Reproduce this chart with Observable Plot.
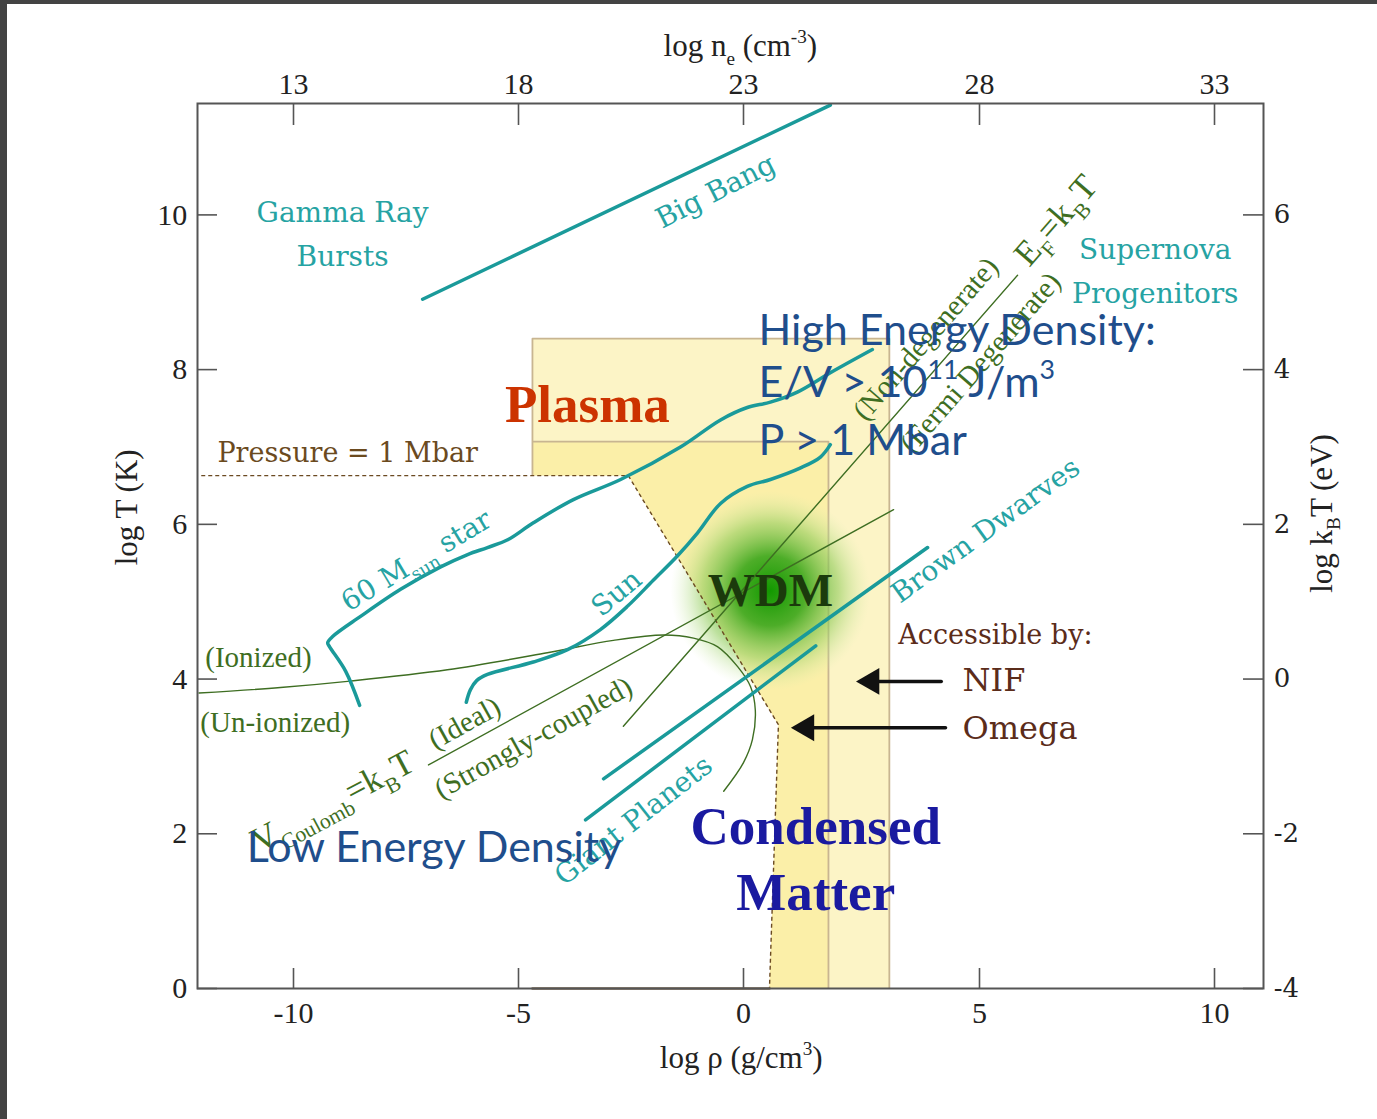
<!DOCTYPE html>
<html><head><meta charset="utf-8">
<script src="https://cdn.jsdelivr.net/npm/d3@7"></script>
<script src="https://cdn.jsdelivr.net/npm/@observablehq/plot@0.6"></script>
<style>
html,body{margin:0;padding:0;background:#434343;width:1377px;height:1119px;overflow:hidden;}
#wrap{position:absolute;left:7px;top:4px;width:1370px;height:1115px;background:#fff;overflow:hidden;}
</style></head><body><div id="wrap"></div>
<script>
// ---- axis ticks ----
const xTicks = [-10, -5, 0, 5, 10];          // log rho (g/cm^3)
const neTicks = [13, 18, 23, 28, 33];        // log n_e = log rho + 23
const yTicks = [0, 2, 4, 6, 8, 10];          // log T (K)
const kTTicks = [-4, -2, 0, 2, 4, 6];        // log kT (eV) = log T - 4

// ---- regions [log rho, log T] ----
const nifRegion = [[-4.69,8.40],[3.09,8.40],[3.09,0],[0.55,0],[0.74,3.41],[-2.56,6.63],[-4.69,6.63]];
const omegaRegion = [[-4.69,7.07],[1.80,7.07],[1.80,0],[0.55,0],[0.74,3.41],[-2.56,6.63],[-4.69,6.63]];
const pressureBoundary = [[-12.05,6.63],[-2.56,6.63],[0.74,3.41],[0.55,0]];
const plasmaBase = [[-4.69,0],[0.55,0]];
const wdmCenter = [[0.57,5.14]];

// ---- teal astrophysical tracks ----
const bigBang = [[-7.13,8.91],[1.84,11.42]];
const star60 = [[-8.53,3.66],[-8.84,4.10],[-9.20,4.42],[-9.24,4.47],[-9.13,4.55],[-8.51,4.81],[-7.62,5.16],[-6.73,5.45],[-6.13,5.61],[-5.69,5.70],[-5.24,5.80],[-4.67,6.02],[-3.78,6.32],[-2.73,6.58],[-1.40,7.00],[-0.51,7.35],[0.08,7.51],[0.57,7.58],[1.14,7.71],[1.84,7.96],[2.73,8.26]];
const sun = [[-6.16,3.70],[-6.07,3.86],[-5.93,3.98],[-5.69,4.06],[-4.67,4.22],[-3.91,4.38],[-3.18,4.64],[-2.58,4.94],[-2.00,5.28],[-1.47,5.59],[-1.02,5.89],[-0.51,6.27],[0.08,6.49],[0.57,6.58],[1.21,6.73],[1.63,6.87],[1.84,7.03]];
const brownDwarves = [[-3.11,2.71],[3.90,5.70]];
const giantPlanets = [[-3.51,2.18],[1.53,4.43]];

// ---- green boundary lines ----
const ionization = [[-12.1,3.82],[-10.29,3.89],[-8.80,3.97],[-6.58,4.12],[-4.36,4.34],[-2.89,4.50],[-1.78,4.57],[-1.11,4.53],[-0.58,4.42],[-0.13,4.16],[0.15,3.90],[0.25,3.60],[0.19,3.22],[0.0,2.92],[-0.44,2.55]];
const coulomb = [[-7.0,2.89],[3.18,6.19]];
const fermi = [[-2.67,3.39],[5.81,9.22]];

// ---- arrows ----
const nifArrow = [[4.19,3.97],[2.48,3.97]];
const omegaArrow = [[4.28,3.37],[1.10,3.37]];

// ---- labels [log rho, log T, text, angle] ----
const tealLabels = [
  [-8.91,10.02,"Gamma Ray",0],[-8.91,9.45,"Bursts",0],
  [8.74,9.54,"Supernova",0],[8.74,8.98,"Progenitors",0],
  [-0.62,10.30,"Big Bang",-27],
  [-7.27,5.53,"60 M_{sun} star",-31],
  [-2.82,5.11,"Sun",-40],
  [5.13,5.92,"Brown Dwarves",-36],
  [-2.44,2.17,"Giant Planets",-38]
];
const phaseLabels = [
  [-11.96,4.27,"(Ionized)",0],
  [-12.07,3.44,"(Un-ionized)",0]
];
const greenLabels = [
  [-6.2,3.43,"(Ideal)",-29],
  [-4.67,3.24,"(Strongly-coupled)",-29],
  [3.86,8.40,"(Non-degenerate)",-49],
  [5.02,8.09,"(Fermi Degenerate)",-49]
];
const formulaLabels = [
  [-9.13,2.42,"V_{Coulomb}=k_{B}T",-28],
  [6.62,9.93,"E_{F}=k_{B}T",-49]
];
const brownLabels = [
  [-11.69,6.92,"Pressure = 1 Mbar","#6b4a1e"],
  [3.28,4.56,"Accessible by:","#5b2c1a"]
];
const facilityLabels = [[4.64,3.98,"NIF"],[4.64,3.36,"Omega"]];
const regimeLabels = [
  [-3.47,7.54,"Plasma","#cc3300",53],
  [0.57,5.14,"WDM","#1b3a0c",47],
  [1.53,2.09,"Condensed","#1a1aa0",53],
  [1.53,1.23,"Matter","#1a1aa0",53]
];
const hedLabels = [
  [0.32,8.32,"High Energy Density:"],
  [0.32,7.64,"E/V > 10^{11} J/m^{3}"],
  [0.32,6.89,"P > 1 Mbar"],
  [-11.04,1.64,"Low Energy Density"]
];
const axisTitles = [
  [-0.07,12.05,"log n_{e} (cm^{-3})",0],
  [-0.05,-1.03,"log ρ (g/cm^{3})",0],
  [-13.47,6.22,"log T (K)",-90],
  [12.49,6.14,"log k_{B}T (eV)",-90]
];

const X = d => d[0], Y = d => d[1], T = d => d[2];
const teal = "#1a9a9a", tealText = "#26a3a3", green = "#3e6e22";
const serif = "Liberation Serif, Times New Roman, serif";
const wide = "DejaVu Serif, serif";

const chart = Plot.plot({
  width: 1370, height: 1115,
  marginLeft: 190, marginRight: 114, marginTop: 99, marginBottom: 131,
  x: {type: "linear", domain: xTicks, range: [286, 511, 736, 972, 1207], axis: null},
  y: {type: "linear", domain: [0, 11.44], range: [984, 99], axis: null},
  style: {background: "transparent", fontFamily: serif, overflow: "visible"},
  marks: [
    Plot.line(nifRegion, {x: X, y: Y, fill: "#fcf4c6", stroke: "none"}),
    Plot.line(omegaRegion, {x: X, y: Y, fill: "#fbefa8", stroke: "none"}),
    Plot.line([nifRegion[6], nifRegion[0], nifRegion[1], nifRegion[2]], {x: X, y: Y, stroke: "#c8b591", strokeWidth: 1.8, strokeLinecap: "butt"}),
    Plot.line([omegaRegion[0], omegaRegion[1], omegaRegion[2]], {x: X, y: Y, stroke: "#c8b591", strokeWidth: 1.8, strokeLinecap: "butt"}),
    Plot.dot(wdmCenter, {x: X, y: Y, r: 100, fill: "url(#wdmGlow)", stroke: "none"}),
    Plot.line(pressureBoundary, {x: X, y: Y, stroke: "#6b4a22", strokeWidth: 1.4, strokeDasharray: "4,3", strokeLinecap: "butt"}),
    Plot.line(plasmaBase, {x: X, y: Y, stroke: "#7a6650", strokeWidth: 2.5}),
    // green boundaries
    Plot.line(ionization, {x: X, y: Y, stroke: green, strokeWidth: 1.4, curve: "catmull-rom"}),
    Plot.line(coulomb, {x: X, y: Y, stroke: green, strokeWidth: 1.4}),
    Plot.line(fermi, {x: X, y: Y, stroke: green, strokeWidth: 1.4}),
    // teal tracks
    Plot.line(bigBang, {x: X, y: Y, stroke: teal, strokeWidth: 3.5}),
    Plot.line(star60, {x: X, y: Y, stroke: teal, strokeWidth: 3.5, curve: "catmull-rom"}),
    Plot.line(sun, {x: X, y: Y, stroke: teal, strokeWidth: 3.5, curve: "catmull-rom"}),
    Plot.line(brownDwarves, {x: X, y: Y, stroke: teal, strokeWidth: 3.5}),
    Plot.line(giantPlanets, {x: X, y: Y, stroke: teal, strokeWidth: 3.5}),
    // arrows
    Plot.line(nifArrow, {x: X, y: Y, stroke: "#111", strokeWidth: 3.5}),
    Plot.line(omegaArrow, {x: X, y: Y, stroke: "#111", strokeWidth: 3.5}),
    Plot.dot([nifArrow[1], omegaArrow[1]], {x: X, y: Y, symbol: "triangle", rotate: -90, r: 10, fill: "#111", stroke: "none", dx: 11}),
    // frame and inward ticks
    Plot.frame({stroke: "#555", strokeWidth: 2}),
    Plot.ruleX(xTicks, {x: d => d, insetTop: 865, stroke: "#555", strokeWidth: 1.6}),
    Plot.ruleX(neTicks, {x: d => d - 23, insetBottom: 863, stroke: "#555", strokeWidth: 1.6}),
    Plot.ruleY(yTicks, {y: d => d, insetRight: 1046, stroke: "#555", strokeWidth: 1.6}),
    Plot.ruleY(kTTicks, {y: d => d + 4, insetLeft: 1046, stroke: "#555", strokeWidth: 1.6}),
    // tick labels
    Plot.text(xTicks, {x: d => d, y: () => -0.44, text: d => String(d), lineAnchor: "bottom", fontSize: 30, fill: "#222"}),
    Plot.text(neTicks, {x: d => d - 23, y: () => 11.56, text: d => String(d), lineAnchor: "bottom", fontSize: 30, fill: "#222"}),
    Plot.text(yTicks, {x: () => -12.36, y: d => d, text: d => String(d), textAnchor: "end", fontSize: 30, fill: "#222"}),
    Plot.text(kTTicks, {x: () => 11.26, y: d => d + 4, text: d => String(d), textAnchor: "start", fontSize: 26, fontFamily: wide, fill: "#222"}),
    // axis titles
    Plot.text(axisTitles, {x: X, y: Y, text: T, rotate: d => d[3], lineAnchor: "bottom", fontSize: 31, fill: "#222"}),
    // regime labels
    Plot.text(regimeLabels, {x: X, y: Y, text: T, fill: d => d[3], fontSize: d => d[4], fontWeight: "bold"}),
    // teal labels
    Plot.text(tealLabels, {x: X, y: Y, text: T, rotate: d => d[3], fill: tealText, fontSize: 28, fontFamily: wide}),
    // green labels
    Plot.text(phaseLabels, {x: X, y: Y, text: T, textAnchor: "start", fill: green, fontSize: 29}),
    Plot.text(greenLabels, {x: X, y: Y, text: T, rotate: d => d[3], fill: green, fontSize: 29}),
    Plot.text(formulaLabels, {x: X, y: Y, text: T, rotate: d => d[3], fill: green, fontSize: 35}),
    // brown labels
    Plot.text(brownLabels, {x: X, y: Y, text: T, fill: d => d[3], textAnchor: "start", fontSize: 27, fontFamily: wide}),
    Plot.text(facilityLabels, {x: X, y: Y, text: T, fill: "#5b2c1a", textAnchor: "start", fontSize: 32, fontFamily: wide}),
    // overlay annotations
    Plot.text(hedLabels, {x: X, y: Y, text: T, fill: "#1f4e8c", textAnchor: "start", lineAnchor: "bottom", fontSize: 43, fontFamily: "Lato, Carlito, sans-serif"})
  ]
});

const wrap = document.getElementById("wrap");
wrap.appendChild(chart);

// radial glow for WDM
const NS = "http://www.w3.org/2000/svg";
const defs = document.createElementNS(NS, "defs");
defs.innerHTML = '<radialGradient id="wdmGlow" cx="50%" cy="50%" r="50%">' +
  '<stop offset="0%" stop-color="#129800" stop-opacity="1"/>' +
  '<stop offset="35%" stop-color="#3aa61a" stop-opacity="0.9"/>' +
  '<stop offset="68%" stop-color="#92cd5e" stop-opacity="0.6"/>' +
  '<stop offset="100%" stop-color="#d6edb0" stop-opacity="0"/>' +
  '</radialGradient>';
chart.insertBefore(defs, chart.firstChild);

// sub/superscripts written as _{..} and ^{..}
function richify(svg) {
  svg.querySelectorAll("text").forEach(t => {
    const s = t.textContent;
    if (!/[_^]\{/.test(s)) return;
    const fs = parseFloat(getComputedStyle(t).fontSize) || 24;
    while (t.firstChild) t.removeChild(t.firstChild);
    let shift = 0;
    const add = (str, kind) => {
      const ts = document.createElementNS(NS, "tspan");
      ts.textContent = str;
      const target = kind === "_" ? 0.28 * fs : kind === "^" ? -0.42 * fs : 0;
      if (target - shift !== 0) ts.setAttribute("dy", (target - shift).toFixed(2));
      shift = target;
      if (kind) ts.setAttribute("font-size", (0.62 * fs).toFixed(1));
      t.appendChild(ts);
    };
    const re = /([_^])\{([^}]*)\}/g;
    let last = 0, m;
    while ((m = re.exec(s))) {
      if (m.index > last) add(s.slice(last, m.index), null);
      add(m[2], m[1]);
      last = re.lastIndex;
    }
    if (last < s.length) add(s.slice(last), null);
  });
}
richify(chart);
</script></body></html>
